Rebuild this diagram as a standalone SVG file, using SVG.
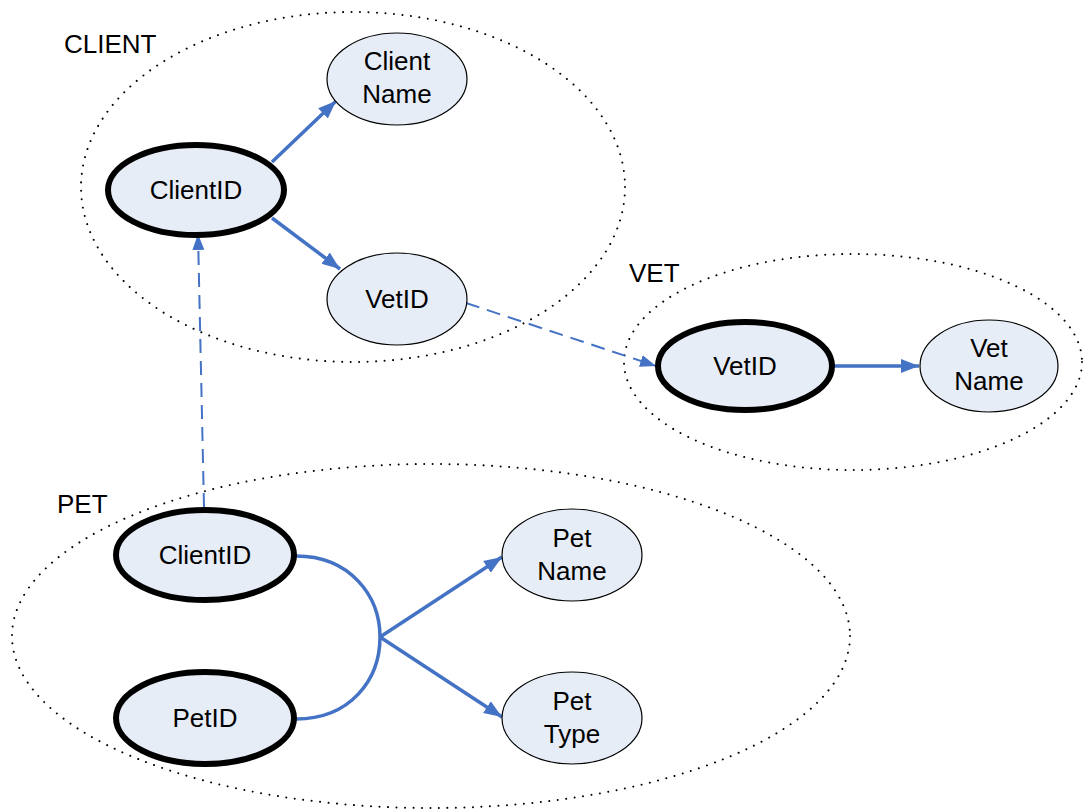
<svg xmlns="http://www.w3.org/2000/svg" width="1084" height="809" viewBox="0 0 1084 809">
<defs>
<style>
.grp{fill:none;stroke:#000;stroke-width:2;stroke-dasharray:0.01 8.5;stroke-linecap:round}
.lbl{font-family:"Liberation Sans",Arial,sans-serif;font-size:26px;fill:#000}
.txt{font-family:"Liberation Sans",Arial,sans-serif;font-size:26px;fill:#000;text-anchor:middle}
.key{fill:#E7EDF7;stroke:#000;stroke-width:6}
.att{fill:#E7EDF7;stroke:#000;stroke-width:1.2}
.fd{fill:none;stroke:#4472C4;stroke-width:3.5;marker-end:url(#ah)}
.fk{fill:none;stroke:#4472C4;stroke-width:2;stroke-dasharray:14 8;marker-end:url(#ah2)}
</style>
<marker id="ah" markerUnits="userSpaceOnUse" markerWidth="20" markerHeight="16" refX="18" refY="8" orient="auto">
<path d="M0,1 L18,8 L0,15 Z" fill="#4472C4"/>
</marker>
<marker id="ah2" markerUnits="userSpaceOnUse" markerWidth="18" markerHeight="14" refX="16" refY="7" orient="auto">
<path d="M0,1 L16,7 L0,13 Z" fill="#4472C4"/>
</marker>
</defs>
<rect width="1084" height="809" fill="#fff"/>

<g id="group-client">
<ellipse class="grp" cx="353" cy="187" rx="272" ry="175"/>
<text class="lbl" x="64" y="53">CLIENT</text>
</g>
<g id="group-vet">
<ellipse class="grp" cx="853" cy="362" rx="229" ry="108"/>
<text class="lbl" x="629" y="282">VET</text>
</g>
<g id="group-pet">
<ellipse class="grp" cx="431" cy="636" rx="419" ry="172"/>
<text class="lbl" x="57" y="513">PET</text>
</g>

<g id="connectors">
<path class="fd" d="M272,162 L336,101"/>
<path class="fd" d="M272,218 L340,269"/>
<path class="fd" d="M834,366 L919,366"/>
<path class="fk" d="M466,303 L656,366"/>
<path class="fk" d="M204,507 L198,234"/>
<path fill="none" stroke="#4472C4" stroke-width="3.5" d="M296,556 C350,556 380,596 380,637 C380,680 350,719 296,719"/>
<path class="fd" d="M380,637 L502,557"/>
<path class="fd" d="M380,637 L502,717"/>
</g>

<g id="client-clientid">
<ellipse class="key" cx="196" cy="190" rx="88" ry="45"/>
<text class="txt" x="196" y="199">ClientID</text>
</g>
<g id="client-name">
<ellipse class="att" cx="397" cy="79" rx="70" ry="46"/>
<text class="txt" x="397" y="70">Client</text>
<text class="txt" x="397" y="103">Name</text>
</g>
<g id="client-vetid">
<ellipse class="att" cx="397" cy="299" rx="70" ry="46"/>
<text class="txt" x="397" y="308">VetID</text>
</g>
<g id="vet-vetid">
<ellipse class="key" cx="745" cy="366" rx="87" ry="44"/>
<text class="txt" x="745" y="375">VetID</text>
</g>
<g id="vet-name">
<ellipse class="att" cx="989" cy="366" rx="69" ry="46"/>
<text class="txt" x="989" y="357">Vet</text>
<text class="txt" x="989" y="390">Name</text>
</g>
<g id="pet-clientid">
<ellipse class="key" cx="205" cy="555" rx="89" ry="45"/>
<text class="txt" x="205" y="564">ClientID</text>
</g>
<g id="pet-petid">
<ellipse class="key" cx="205" cy="718" rx="89" ry="46"/>
<text class="txt" x="205" y="727">PetID</text>
</g>
<g id="pet-name">
<ellipse class="att" cx="572" cy="555" rx="70" ry="46"/>
<text class="txt" x="572" y="547">Pet</text>
<text class="txt" x="572" y="580">Name</text>
</g>
<g id="pet-type">
<ellipse class="att" cx="572" cy="718" rx="70" ry="46"/>
<text class="txt" x="572" y="710">Pet</text>
<text class="txt" x="572" y="743">Type</text>
</g>
</svg>
